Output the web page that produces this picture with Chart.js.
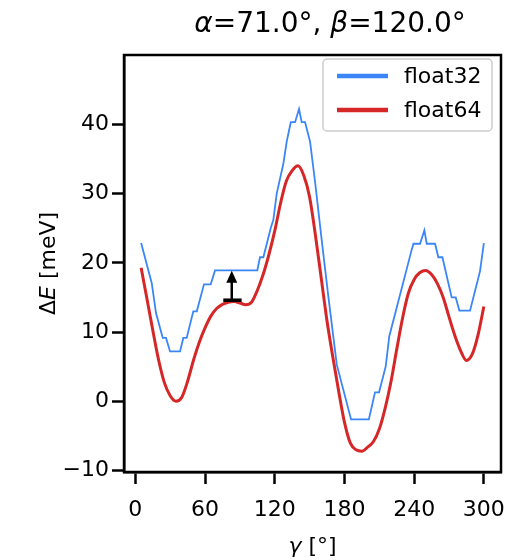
<!DOCTYPE html>
<html>
<head>
<meta charset="utf-8">
<script src="https://cdn.jsdelivr.net/npm/chart.js"></script>
<style>
  html, body { margin: 0; padding: 0; background: #fff; }
  #wrap { width: 508px; height: 560px; }
</style>
</head>
<body>
<div id="wrap"><canvas id="chart" width="508" height="560"></canvas></div>
<script>
// values
const gamma64 = [5, 10, 15, 20, 25, 30, 35, 40, 45, 50, 55, 60, 65, 70, 75, 80, 85, 90, 95, 100,
    105, 110, 115, 120, 125, 130, 135, 140, 145, 150, 155, 160, 165, 170, 175, 180, 185, 190, 195, 200,
    205, 210, 215, 220, 225, 230, 235, 240, 245, 250, 255, 260, 265, 270, 275, 280, 285, 290, 295, 300];
const float64 = [19.3, 14.8, 10.3, 6.0, 2.7, 0.8, 0.0, 0.6, 2.9, 5.9, 8.5, 10.6, 12.3, 13.4, 14.0, 14.3, 14.4, 14.2, 13.95, 14.3,
    16.0, 18.3, 21.2, 24.6, 28.6, 31.8, 33.3, 34.0, 32.6, 29.5, 24.0, 17.8, 11.6, 6.4, 1.5, -3.0, -6.0, -7.0, -7.2, -6.6,
    -5.8, -4.0, -1.0, 2.8, 7.5, 12.0, 15.6, 17.6, 18.6, 18.9, 18.3, 17.0, 15.0, 12.2, 9.5, 7.3, 5.9, 6.8, 9.6, 13.7];

const gamma32 = [5, 14.1, 17.8, 23.6, 26.4, 29.9, 38.5, 41.3, 44.2, 49.9, 52.9, 59.1, 64.9, 68.6, 105,
    107.3, 110.2, 116.5, 118.8, 121.7, 127.4, 130.3, 133.8, 137.5, 140.9, 143.2, 146.1, 150.4, 154.7, 160.4,
    166.1, 173.4, 185.7, 201.0, 206.3, 209.8, 215.5, 218.6, 237.9, 239.4, 245.1, 248.8, 250.8, 258, 260.8,
    264.3, 272.3, 275.8, 278.9, 288.1, 296.7, 300];
const float32 = [22.85, 17.1, 12.75, 9.15, 9.15, 7.2, 7.2, 9.15, 9.15, 13.0, 13.0, 16.9, 16.9, 18.9, 18.9,
    20.8, 20.8, 25.0, 26.2, 30.0, 34.3, 37.5, 40.3, 40.3, 42.2, 40.3, 40.3, 37.5, 31.7, 23.3,
    15.2, 5.3, -2.6, -2.6, 1.3, 1.3, 5.05, 9.4, 21.9, 22.75, 22.75, 24.7, 22.75, 22.75, 20.8,
    20.8, 15.0, 15.0, 13.1, 13.1, 18.8, 22.85];

const xTicks = [0, 60, 120, 180, 240, 300];
const yTicks = [-10, 0, 10, 20, 30, 40];

// arrow from float64 shoulder up to the float32 plateau
const arrowX = 83;
const arrowFrom = 14.6;
const arrowTo = 18.85;
const barFrom = 75.7;
const barTo = 91.5;

const FONT = "'DejaVu Sans', sans-serif";
const BLUE = "#3b86f6";
const RED = "#d62728";

const toPoints = (xs, ys) => xs.map((x, i) => ({ x: x, y: ys[i] }));

// draw runs of text with mixed italic/normal
function drawRuns(ctx, runs, size, x, y, align) {
    let total = 0;
    runs.forEach(r => {
        ctx.font = (r.it ? "italic " : "") + size + "px " + FONT;
        r.w = ctx.measureText(r.t).width;
        total += r.w;
    });
    let cx = align === "center" ? x - total / 2 : x;
    runs.forEach(r => {
        ctx.font = (r.it ? "italic " : "") + size + "px " + FONT;
        ctx.fillText(r.t, cx, y);
        cx += r.w;
    });
}

const decor = {
    id: "decor",
    afterDatasetsDraw(chart) {
        const ctx = chart.ctx;
        const area = chart.chartArea;
        const xs = chart.scales.x;
        const ys = chart.scales.y;
        ctx.save();

        // arrow
        const ax = xs.getPixelForValue(arrowX);
        const y0 = ys.getPixelForValue(arrowFrom);
        const y1 = ys.getPixelForValue(arrowTo);
        ctx.strokeStyle = "#000";
        ctx.fillStyle = "#000";
        ctx.lineWidth = 3.5;
        ctx.beginPath();
        ctx.moveTo(xs.getPixelForValue(barFrom), y0);
        ctx.lineTo(xs.getPixelForValue(barTo), y0);
        ctx.stroke();
        ctx.lineWidth = 2.5;
        ctx.beginPath();
        ctx.moveTo(ax, y0);
        ctx.lineTo(ax, y1 + 8);
        ctx.stroke();
        ctx.beginPath();
        ctx.moveTo(ax, y1);
        ctx.lineTo(ax - 5.5, y1 + 12);
        ctx.lineTo(ax + 5.5, y1 + 12);
        ctx.closePath();
        ctx.fill();

        // frame
        ctx.lineWidth = 2.5;
        ctx.strokeRect(area.left, area.top, area.right - area.left, area.bottom - area.top);

        // legend
        const lx = 323, ly = 59, lw = 169, lh = 72;
        ctx.beginPath();
        ctx.roundRect(lx, ly, lw, lh, 4);
        ctx.fillStyle = "rgba(255,255,255,0.8)";
        ctx.fill();
        ctx.strokeStyle = "#cccccc";
        ctx.lineWidth = 1.5;
        ctx.stroke();
        const rows = [76, 110];
        chart.data.datasets.forEach((ds, i) => {
            ctx.strokeStyle = ds.borderColor;
            ctx.lineWidth = 4.5;
            ctx.beginPath();
            ctx.moveTo(337, rows[i]);
            ctx.lineTo(388, rows[i]);
            ctx.stroke();
            ctx.fillStyle = "#000";
            ctx.font = "22px " + FONT;
            ctx.textBaseline = "middle";
            ctx.textAlign = "left";
            ctx.fillText(ds.label, 404, rows[i] + 1);
        });

        // title and axis labels
        ctx.fillStyle = "#000";
        ctx.textBaseline = "alphabetic";
        ctx.textAlign = "left";
        drawRuns(ctx, [
            { t: "\u03b1", it: true }, { t: "=71.0\u00b0, " },
            { t: "\u03b2", it: true }, { t: "=120.0\u00b0" }
        ], 28, 330, 32, "center");
        drawRuns(ctx, [{ t: "\u03b3", it: true }, { t: " [\u00b0]" }], 22, (area.left + area.right) / 2, 553, "center");
        ctx.translate(55, (area.top + area.bottom) / 2);
        ctx.rotate(-Math.PI / 2);
        drawRuns(ctx, [{ t: "\u0394" }, { t: "E", it: true }, { t: " [meV]" }], 22, 0, 0, "center");
        ctx.restore();
    }
};

new Chart(document.getElementById("chart"), {
    type: "line",
    data: {
        datasets: [
            {
                label: "float32",
                data: toPoints(gamma32, float32),
                borderColor: BLUE,
                borderWidth: 1.8,
                pointRadius: 0,
                tension: 0
            },
            {
                label: "float64",
                data: toPoints(gamma64, float64),
                borderColor: RED,
                borderWidth: 3,
                pointRadius: 0,
                cubicInterpolationMode: "monotone"
            }
        ]
    },
    options: {
        responsive: false,
        animation: false,
        layout: { padding: { left: 0, top: 55, right: 7, bottom: 0 } },
        plugins: { legend: { display: false }, tooltip: { enabled: false } },
        scales: {
            x: {
                type: "linear",
                min: -9.75,
                max: 314.75,
                afterBuildTicks: s => { s.ticks = xTicks.map(v => ({ value: v })); },
                afterFit: s => { s.height = 88; s.paddingLeft = 0; s.paddingRight = 0; },
                grid: { drawOnChartArea: false, tickLength: 12, tickWidth: 2.5, tickColor: "#000" },
                border: { color: "#000", width: 2.5 },
                ticks: { color: "#000", font: { family: FONT, size: 22 }, padding: 13, maxRotation: 0 }
            },
            y: {
                min: -10.2,
                max: 50,
                afterBuildTicks: s => { s.ticks = yTicks.map(v => ({ value: v })); },
                afterFit: s => { s.width = 124; s.paddingTop = 0; s.paddingBottom = 0; },
                grid: { drawOnChartArea: false, tickLength: 12, tickWidth: 2.5, tickColor: "#000" },
                border: { color: "#000", width: 2.5 },
                ticks: {
                    color: "#000",
                    font: { family: FONT, size: 22 },
                    padding: 3,
                    callback: v => String(v).replace("-", "\u2212")
                }
            }
        }
    },
    plugins: [decor]
});
</script>
</body>
</html>
